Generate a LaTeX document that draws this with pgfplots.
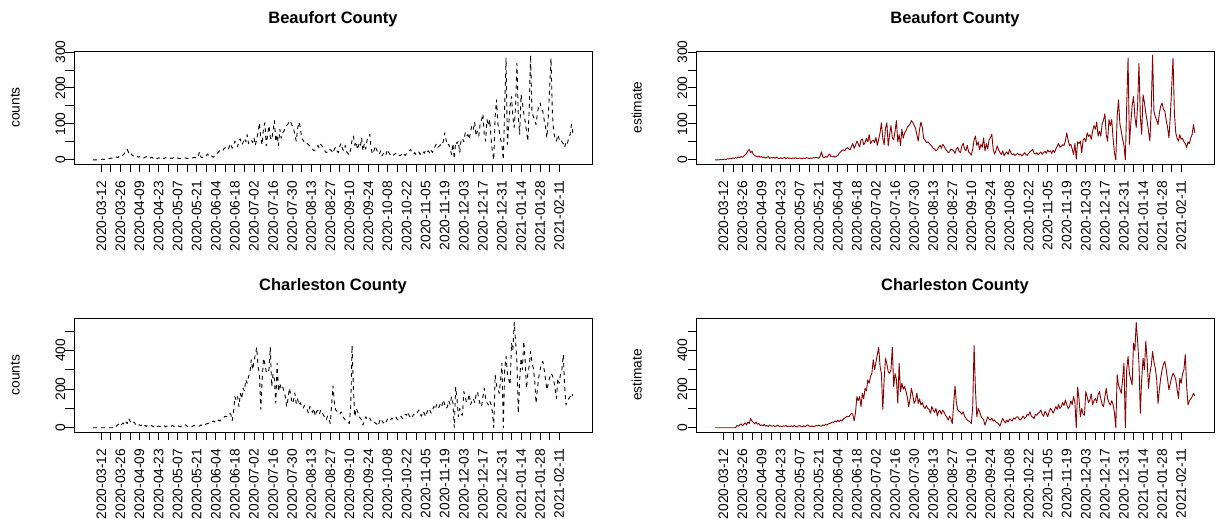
\documentclass[border=0pt]{standalone}
\usepackage{fontspec}
\setmainfont{Liberation Sans}
\usepackage{pgfplots}
\usepackage{pgfplotstable}
\pgfplotsset{compat=1.18}

\definecolor{estred}{HTML}{8B0000}

% daily values, first row = 2020-03-06 (day -6 from 2020-03-12)
\pgfplotstableread[row sep=\\]{
v\\
0\\ 0\\ 0\\ 0\\ 1\\ 0\\ 1\\
2\\ 1\\ 3\\ 2\\ 4\\ 3\\ 5\\
4\\ 6\\ 5\\ 8\\ 6\\ 9\\ 7\\
10\\ 14\\ 18\\ 25\\ 29\\ 20\\ 24\\
15\\ 12\\ 10\\ 8\\ 11\\ 7\\ 9\\
6\\ 8\\ 5\\ 7\\ 9\\ 4\\ 6\\
5\\ 7\\ 4\\ 8\\ 5\\ 3\\ 6\\
4\\ 5\\ 7\\ 3\\ 6\\ 4\\ 5\\
3\\ 5\\ 4\\ 6\\ 3\\ 4\\ 5\\
4\\ 3\\ 5\\ 4\\ 6\\ 5\\ 3\\
5\\ 4\\ 6\\ 5\\ 7\\ 6\\ 4\\
10\\ 22\\ 8\\ 6\\ 9\\ 7\\ 12\\
16\\ 9\\ 8\\ 11\\ 7\\ 10\\ 12\\
18\\ 22\\ 26\\ 28\\ 25\\ 31\\ 34\\
30\\ 28\\ 38\\ 45\\ 32\\ 41\\ 52\\
44\\ 36\\ 55\\ 58\\ 42\\ 48\\ 60\\
50\\ 70\\ 45\\ 52\\ 55\\ 48\\ 62\\
40\\ 58\\ 75\\ 103\\ 60\\ 42\\ 88\\
103\\ 39\\ 70\\ 95\\ 62\\ 55\\ 80\\
109\\ 50\\ 70\\ 39\\ 85\\ 60\\ 75\\
80\\ 90\\ 95\\ 100\\ 109\\ 104\\ 96\\
88\\ 70\\ 52\\ 85\\ 105\\ 90\\ 60\\
55\\ 48\\ 50\\ 46\\ 42\\ 38\\ 32\\
30\\ 25\\ 28\\ 35\\ 40\\ 32\\ 43\\
38\\ 30\\ 25\\ 20\\ 22\\ 30\\ 28\\
25\\ 18\\ 30\\ 35\\ 24\\ 20\\ 38\\
46\\ 30\\ 25\\ 40\\ 22\\ 18\\ 13\\
30\\ 55\\ 66\\ 40\\ 50\\ 28\\ 43\\
35\\ 61\\ 25\\ 45\\ 30\\ 55\\ 62\\
71\\ 30\\ 16\\ 25\\ 39\\ 28\\ 20\\
15\\ 25\\ 11\\ 18\\ 22\\ 15\\ 29\\
20\\ 14\\ 17\\ 12\\ 15\\ 18\\ 13\\
16\\ 11\\ 14\\ 20\\ 15\\ 12\\ 18\\
22\\ 25\\ 29\\ 18\\ 16\\ 20\\ 14\\
18\\ 22\\ 15\\ 20\\ 24\\ 18\\ 27\\
22\\ 25\\ 18\\ 27\\ 20\\ 30\\ 38\\
45\\ 35\\ 38\\ 42\\ 40\\ 52\\ 75\\
55\\ 40\\ 43\\ 30\\ 15\\ 45\\ 2\\
50\\ 45\\ 52\\ 20\\ 55\\ 60\\ 50\\
75\\ 65\\ 70\\ 57\\ 80\\ 95\\ 85\\
105\\ 66\\ 80\\ 66\\ 100\\ 110\\ 128\\
70\\ 52\\ 112\\ 95\\ 112\\ 60\\ 20\\
0\\ 120\\ 167\\ 100\\ 80\\ 57\\ 40\\
0\\ 150\\ 283\\ 43\\ 100\\ 150\\ 176\\
120\\ 90\\ 150\\ 268\\ 120\\ 71\\ 181\\
160\\ 130\\ 107\\ 80\\ 52\\ 140\\ 291\\
135\\ 120\\ 110\\ 98\\ 130\\ 150\\ 158\\
140\\ 135\\ 110\\ 90\\ 61\\ 120\\ 200\\
283\\ 130\\ 75\\ 60\\ 52\\ 70\\ 57\\
60\\ 50\\ 45\\ 34\\ 50\\ 45\\ 61\\
70\\ 98\\ 75\\
}\beaufort

\pgfplotstableread[row sep=\\]{
v\\
0\\ 0\\ 0\\ 0\\ 0\\ 0\\ 0\\
0\\ 0\\ 0\\ 0\\ 0\\ 0\\ 0\\
0\\ 1\\ 12\\ 8\\ 15\\ 20\\ 10\\
18\\ 25\\ 14\\ 30\\ 22\\ 48\\ 35\\
28\\ 20\\ 30\\ 18\\ 22\\ 12\\ 15\\
10\\ 18\\ 8\\ 12\\ 6\\ 15\\ 10\\
8\\ 12\\ 5\\ 10\\ 14\\ 7\\ 9\\
6\\ 10\\ 8\\ 12\\ 5\\ 9\\ 7\\
10\\ 6\\ 12\\ 8\\ 5\\ 9\\ 11\\
7\\ 5\\ 10\\ 6\\ 12\\ 15\\ 8\\
6\\ 10\\ 5\\ 8\\ 12\\ 9\\ 14\\
10\\ 8\\ 15\\ 12\\ 18\\ 14\\ 20\\
22\\ 25\\ 30\\ 28\\ 35\\ 30\\ 38\\
32\\ 40\\ 35\\ 45\\ 50\\ 55\\ 60\\
57\\ 65\\ 75\\ 70\\ 36\\ 80\\ 161\\
140\\ 161\\ 109\\ 178\\ 150\\ 205\\ 190\\
248\\ 230\\ 265\\ 282\\ 352\\ 300\\ 340\\
380\\ 416\\ 317\\ 280\\ 95\\ 250\\ 360\\
330\\ 290\\ 282\\ 300\\ 416\\ 213\\ 280\\
250\\ 127\\ 334\\ 187\\ 230\\ 200\\ 213\\
190\\ 160\\ 109\\ 150\\ 204\\ 170\\ 126\\
140\\ 180\\ 126\\ 150\\ 118\\ 130\\ 110\\
100\\ 115\\ 100\\ 95\\ 75\\ 110\\ 92\\
80\\ 100\\ 61\\ 85\\ 90\\ 70\\ 92\\
80\\ 65\\ 55\\ 40\\ 60\\ 45\\ 22\\
120\\ 217\\ 130\\ 92\\ 85\\ 80\\ 70\\
83\\ 60\\ 50\\ 40\\ 35\\ 30\\ 22\\
109\\ 425\\ 200\\ 57\\ 100\\ 85\\ 60\\
50\\ 40\\ 14\\ 35\\ 57\\ 45\\ 40\\
50\\ 35\\ 40\\ 30\\ 25\\ 20\\ 9\\
30\\ 48\\ 35\\ 25\\ 40\\ 30\\ 45\\
40\\ 35\\ 50\\ 45\\ 55\\ 57\\ 45\\
40\\ 50\\ 60\\ 48\\ 55\\ 70\\ 65\\
83\\ 60\\ 55\\ 48\\ 70\\ 65\\ 75\\
80\\ 92\\ 70\\ 60\\ 85\\ 75\\ 57\\
80\\ 100\\ 92\\ 75\\ 92\\ 110\\ 95\\
120\\ 100\\ 109\\ 130\\ 115\\ 144\\ 120\\
100\\ 109\\ 140\\ 120\\ 161\\ 130\\ 0\\
210\\ 150\\ 57\\ 100\\ 70\\ 65\\ 187\\
160\\ 130\\ 144\\ 175\\ 120\\ 140\\ 152\\
130\\ 170\\ 187\\ 150\\ 120\\ 109\\ 160\\
204\\ 150\\ 130\\ 118\\ 140\\ 120\\ 80\\
0\\ 274\\ 220\\ 200\\ 178\\ 250\\ 334\\
0\\ 300\\ 369\\ 280\\ 250\\ 222\\ 438\\
400\\ 546\\ 450\\ 334\\ 75\\ 250\\ 360\\
300\\ 447\\ 350\\ 204\\ 280\\ 320\\ 395\\
340\\ 308\\ 250\\ 126\\ 200\\ 260\\ 300\\
330\\ 343\\ 300\\ 250\\ 196\\ 230\\ 260\\
282\\ 270\\ 248\\ 200\\ 152\\ 256\\ 230\\
280\\ 300\\ 378\\ 213\\ 118\\ 140\\ 150\\
161\\ 178\\ 165\\
}\charleston

\pgfplotsset{
  rpanel/.style={
    scale only axis,
    width=518pt,
    xmin=-20.08, xmax=360.08,
    xtick={0,14,...,336},
    minor xtick={7,21,...,329},
    xticklabels={2020-03-12,2020-03-26,2020-04-09,2020-04-23,2020-05-07,2020-05-21,2020-06-04,2020-06-18,2020-07-02,2020-07-16,2020-07-30,2020-08-13,2020-08-27,2020-09-10,2020-09-24,2020-10-08,2020-10-22,2020-11-05,2020-11-19,2020-12-03,2020-12-17,2020-12-31,2021-01-14,2021-01-28,2021-02-11},
    tick pos=left,
    tick align=outside,
    major tick length=8.5pt,
    minor tick length=8.5pt,
    every tick/.style={black, line width=0.8pt},
    axis line style={black, line width=0.8pt},
    ticklabel style={font=\fontsize{13.75}{16}\selectfont, inner sep=0pt},
    xticklabel style={rotate=90, anchor=east},
    xticklabel shift=8pt,
    yticklabel style={rotate=90, anchor=south},
    /pgf/number format/assume math mode=true,
    title style={font=\bfseries\fontsize{16.5}{19}\selectfont, at={(0.5,1)}, anchor=base, yshift=21pt, inner sep=0pt},
    every axis y label/.style={at={(rel axis cs:0,0.5)}, xshift=-54pt, rotate=90, anchor=south, inner sep=0pt, font=\fontsize{13.75}{16}\selectfont},
  },
  bft/.style={rpanel, height=113pt, ymin=-11.64, ymax=302.6,
    ytick={0,100,200,300}, minor ytick={50,150,250}, title={Beaufort County}},
  chs/.style={rpanel, height=114pt, ymin=-21.84, ymax=567.8,
    ytick={0,200,400}, minor ytick={100,300,500}, title={Charleston County}},
  cnt/.style={black, line width=0.9pt, dash pattern=on 4pt off 4pt, line join=round},
  est/.style={estred, line width=0.9pt, line join=round},
}

\begin{document}
\begin{tikzpicture}
\useasboundingbox (0,0) rectangle (1220pt,519pt);

\begin{axis}[bft, at={(74pt,355pt)}, anchor=south west, ylabel={counts}]
\addplot[cnt] table[x expr=\coordindex-6, y=v] {\beaufort};
\end{axis}

\begin{axis}[bft, at={(696pt,355pt)}, anchor=south west, ylabel={estimate}]
\addplot[est] table[x expr=\coordindex-6, y=v] {\beaufort};
\end{axis}

\begin{axis}[chs, at={(74pt,87pt)}, anchor=south west, ylabel={counts}]
\addplot[cnt] table[x expr=\coordindex-6, y=v] {\charleston};
\end{axis}

\begin{axis}[chs, at={(696pt,87pt)}, anchor=south west, ylabel={estimate}]
\addplot[est] table[x expr=\coordindex-6, y=v] {\charleston};
\end{axis}
\end{tikzpicture}
\end{document}
